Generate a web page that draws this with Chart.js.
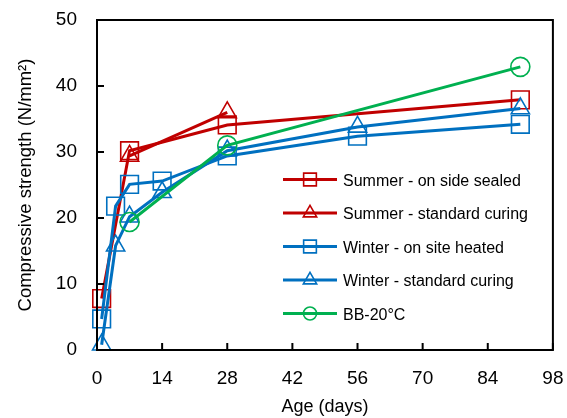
<!DOCTYPE html>
<html>
<head>
<meta charset="utf-8">
<script src="https://cdn.jsdelivr.net/npm/chart.js@4/dist/chart.umd.min.js"></script>
<style>
  html, body { margin: 0; padding: 0; background: #fff; }
</style>
</head>
<body>
<canvas id="c" width="567" height="418"></canvas>
<script>
// Osa x (dny) a osa y (pevnost)
const xTicks = [0, 14, 28, 42, 56, 70, 84, 98];
const yTicks = [0, 10, 20, 30, 40, 50];

const seriesNames = [
  'Summer - on side sealed',
  'Summer - standard curing',
  'Winter - on site heated',
  'Winter - standard curing',
  'BB-20°C',
];

const summerSealedDays = [1, 7, 28, 91];
const summerSealed = [7.8, 30.2, 34.1, 37.9];

const summerStdDays = [7, 28];
const summerStd = [29.4, 36.0];

const winterHeatedDays = [1, 4, 7, 14, 28, 56, 91];
const winterHeated = [4.7, 21.8, 25.1, 25.6, 29.4, 32.4, 34.2];

const winterStdDays = [1, 4, 7, 14, 28, 56, 91];
const winterStd = [0.8, 15.8, 20.2, 23.9, 30.2, 33.8, 36.6];

const bbDays = [7, 28, 91];
const bb = [19.4, 31.0, 42.9];

const RED = '#C00000';
const BLUE = '#0070C0';
const GREEN = '#00B050';
const FONT = "'Liberation Sans', Arial, sans-serif";

const toPts = (xs, ys) => xs.map((d, i) => ({ x: d, y: ys[i] }));

const styles = [
  { color: RED, style: 'rect', r: 12.5, lr: 9 },
  { color: RED, style: 'triangle', r: 10.5, lr: 7.7 },
  { color: BLUE, style: 'rect', r: 12.5, lr: 9 },
  { color: BLUE, style: 'triangle', r: 10.5, lr: 7.7 },
  { color: GREEN, style: 'circle', r: 9.5, lr: 6.5 },
];

const seriesData = [
  toPts(summerSealedDays, summerSealed),
  toPts(summerStdDays, summerStd),
  toPts(winterHeatedDays, winterHeated),
  toPts(winterStdDays, winterStd),
  toPts(bbDays, bb),
];

const datasets = seriesData.map((data, i) => ({
  label: seriesNames[i],
  data,
  showLine: true,
  borderColor: styles[i].color,
  backgroundColor: 'transparent',
  borderWidth: 3,
  tension: 0,
  pointStyle: styles[i].style,
  pointRadius: styles[i].r,
  pointBorderWidth: 1.6,
  pointBorderColor: styles[i].color,
  pointBackgroundColor: 'transparent',
  clip: false,
  order: seriesData.length - i, // poslední řada navrchu
}));

// Rámeček + dovnitř směřující značky os
const framePlugin = {
  id: 'frame',
  afterDraw(chart) {
    const { ctx, chartArea: a } = chart;
    const xs = chart.scales.x, ys = chart.scales.y;
    ctx.save();
    ctx.strokeStyle = '#000';
    ctx.lineWidth = 2;
    ctx.strokeRect(a.left, a.top, a.right - a.left, a.bottom - a.top);
    ctx.beginPath();
    xTicks.forEach((v) => {
      const px = xs.getPixelForValue(v);
      ctx.moveTo(px, a.bottom);
      ctx.lineTo(px, a.bottom - 7);
    });
    yTicks.forEach((v) => {
      const py = ys.getPixelForValue(v);
      ctx.moveTo(a.left, py);
      ctx.lineTo(a.left + 7, py);
    });
    ctx.stroke();
    ctx.restore();
  },
};

// Legenda uvnitř grafu
const legendPlugin = {
  id: 'innerLegend',
  afterDraw(chart) {
    const { ctx } = chart;
    ctx.save();
    seriesNames.forEach((name, i) => {
      const y = 179.5 + i * 33.5;
      const s = styles[i];
      ctx.strokeStyle = s.color;
      ctx.lineWidth = 3;
      ctx.beginPath();
      ctx.moveTo(283, y);
      ctx.lineTo(337, y);
      ctx.stroke();
      ctx.fillStyle = 'rgba(0,0,0,0)';
      ctx.lineWidth = 1.6;
      Chart.helpers.drawPoint(ctx, {
        pointStyle: s.style, radius: s.lr, rotation: 0, borderWidth: 1.6,
      }, 310, y);
      ctx.fillStyle = '#000';
      ctx.font = '16px ' + FONT;
      ctx.textBaseline = 'alphabetic';
      ctx.textAlign = 'left';
      ctx.fillText(name, 343, y + 6);
    });
    ctx.restore();
  },
};

new Chart(document.getElementById('c'), {
  type: 'scatter',
  data: { datasets },
  plugins: [framePlugin, legendPlugin],
  options: {
    responsive: false,
    animation: false,
    layout: { padding: { left: 15, top: 20, right: 12, bottom: 0 } },
    plugins: { legend: { display: false }, tooltip: { enabled: false } },
    scales: {
      x: {
        type: 'linear',
        min: 0,
        max: 98,
        afterFit: (s) => { s.height = 68; s.paddingLeft = 0; s.paddingRight = 0; },
        afterBuildTicks: (s) => { s.ticks = xTicks.map((v) => ({ value: v })); },
        grid: { display: false, drawTicks: false },
        border: { display: false },
        ticks: { color: '#000', font: { family: FONT, size: 19 }, padding: 17, maxRotation: 0 },
        title: {
          display: true, text: 'Age (days)', color: '#000',
          font: { family: FONT, size: 18 }, padding: { top: 0, bottom: 0 },
        },
      },
      y: {
        min: 0,
        max: 50,
        afterFit: (s) => { s.width = 82; s.paddingTop = 0; s.paddingBottom = 0; },
        afterBuildTicks: (s) => { s.ticks = yTicks.map((v) => ({ value: v })); },
        grid: { display: false, drawTicks: false },
        border: { display: false },
        ticks: { color: '#000', font: { family: FONT, size: 19 }, padding: 20 },
        title: {
          display: true, text: 'Compressive strength (N/mm²)', color: '#000',
          font: { family: FONT, size: 18.5 }, padding: { top: 0, bottom: 0 },
        },
      },
    },
  },
});
</script>
</body>
</html>
